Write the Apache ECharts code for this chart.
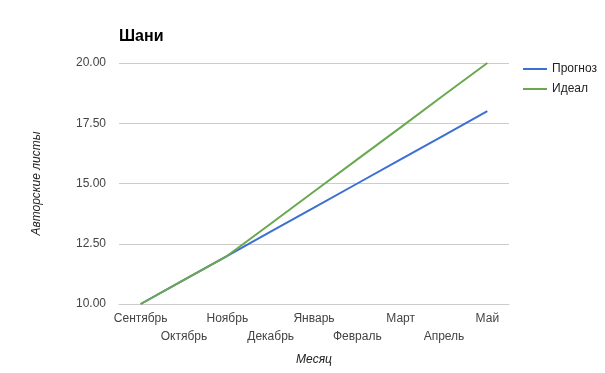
<!DOCTYPE html>
<html>
<head>
<meta charset="utf-8">
<script src="https://cdn.jsdelivr.net/npm/echarts@6/dist/echarts.min.js"></script>
<style>
html,body{margin:0;padding:0;background:#fff;}
#c{width:605px;height:373px;}
</style>
</head>
<body>
<div id="c"></div>
<script>
const months = ['Сентябрь','Октябрь','Ноябрь','Декабрь','Январь','Февраль','Март','Апрель','Май'];
const forecast = [10, 11, 12, 13, 14, 15, 16, 17, 18];
const ideal = [10, 11, 12, 13.33, 14.67, 16, 17.33, 18.67, 20];
const yTicks = [10, 12.5, 15, 17.5, 20];

const FONT = '"Liberation Sans", Arial, sans-serif';
const chart = echarts.init(document.getElementById('c'));
chart.setOption({
  backgroundColor: '#fff',
  animation: false,
  textStyle: { fontFamily: FONT },
  title: {
    text: 'Шани', left: 119, top: 29, padding: 0,
    textStyle: { fontFamily: FONT, fontSize: 16, fontWeight: 'bold', color: '#000' }
  },
  legend: {
    orient: 'vertical', left: 518, top: 58, itemGap: 8,
    itemWidth: 24, itemHeight: 2, icon: 'rect',
    textStyle: { fontFamily: FONT, fontSize: 12, color: '#222' },
    data: ['Прогноз', 'Идеал']
  },
  grid: { left: 119, right: 96, top: 63, bottom: 69, containLabel: false },
  xAxis: {
    type: 'category', data: months, boundaryGap: true,
    name: 'Месяц', nameLocation: 'middle', nameGap: 50,
    nameTextStyle: { fontFamily: FONT, fontSize: 12, fontStyle: 'italic', color: '#222' },
    axisLine: { show: true, lineStyle: { color: '#ccc', width: 1 } },
    axisTick: { show: false },
    axisLabel: {
      interval: 0, margin: 6, fontSize: 12, color: '#444', lineHeight: 18, fontFamily: FONT,
      formatter: (v, i) => (i % 2 ? '\n' + v : v)
    },
    splitLine: { show: false }
  },
  yAxis: {
    type: 'value', min: yTicks[0], max: yTicks[yTicks.length - 1], interval: 2.5,
    name: 'Авторские листы', nameLocation: 'middle', nameGap: 76,
    nameTextStyle: { fontFamily: FONT, fontSize: 12, fontStyle: 'italic', color: '#222' },
    axisLine: { show: false }, axisTick: { show: false },
    axisLabel: { fontSize: 12, color: '#444', margin: 13, fontFamily: FONT, formatter: v => v.toFixed(2) },
    splitLine: { show: true, lineStyle: { color: '#ccc', width: 1 } }
  },
  series: [
    { name: 'Прогноз', type: 'line', data: forecast, symbol: 'none', color: '#3c6fd1',
      lineStyle: { width: 2, color: '#3c6fd1' } },
    { name: 'Идеал', type: 'line', data: ideal, symbol: 'none', color: '#6aa84f',
      lineStyle: { width: 2, color: '#6aa84f' } }
  ]
});
</script>
</body>
</html>
